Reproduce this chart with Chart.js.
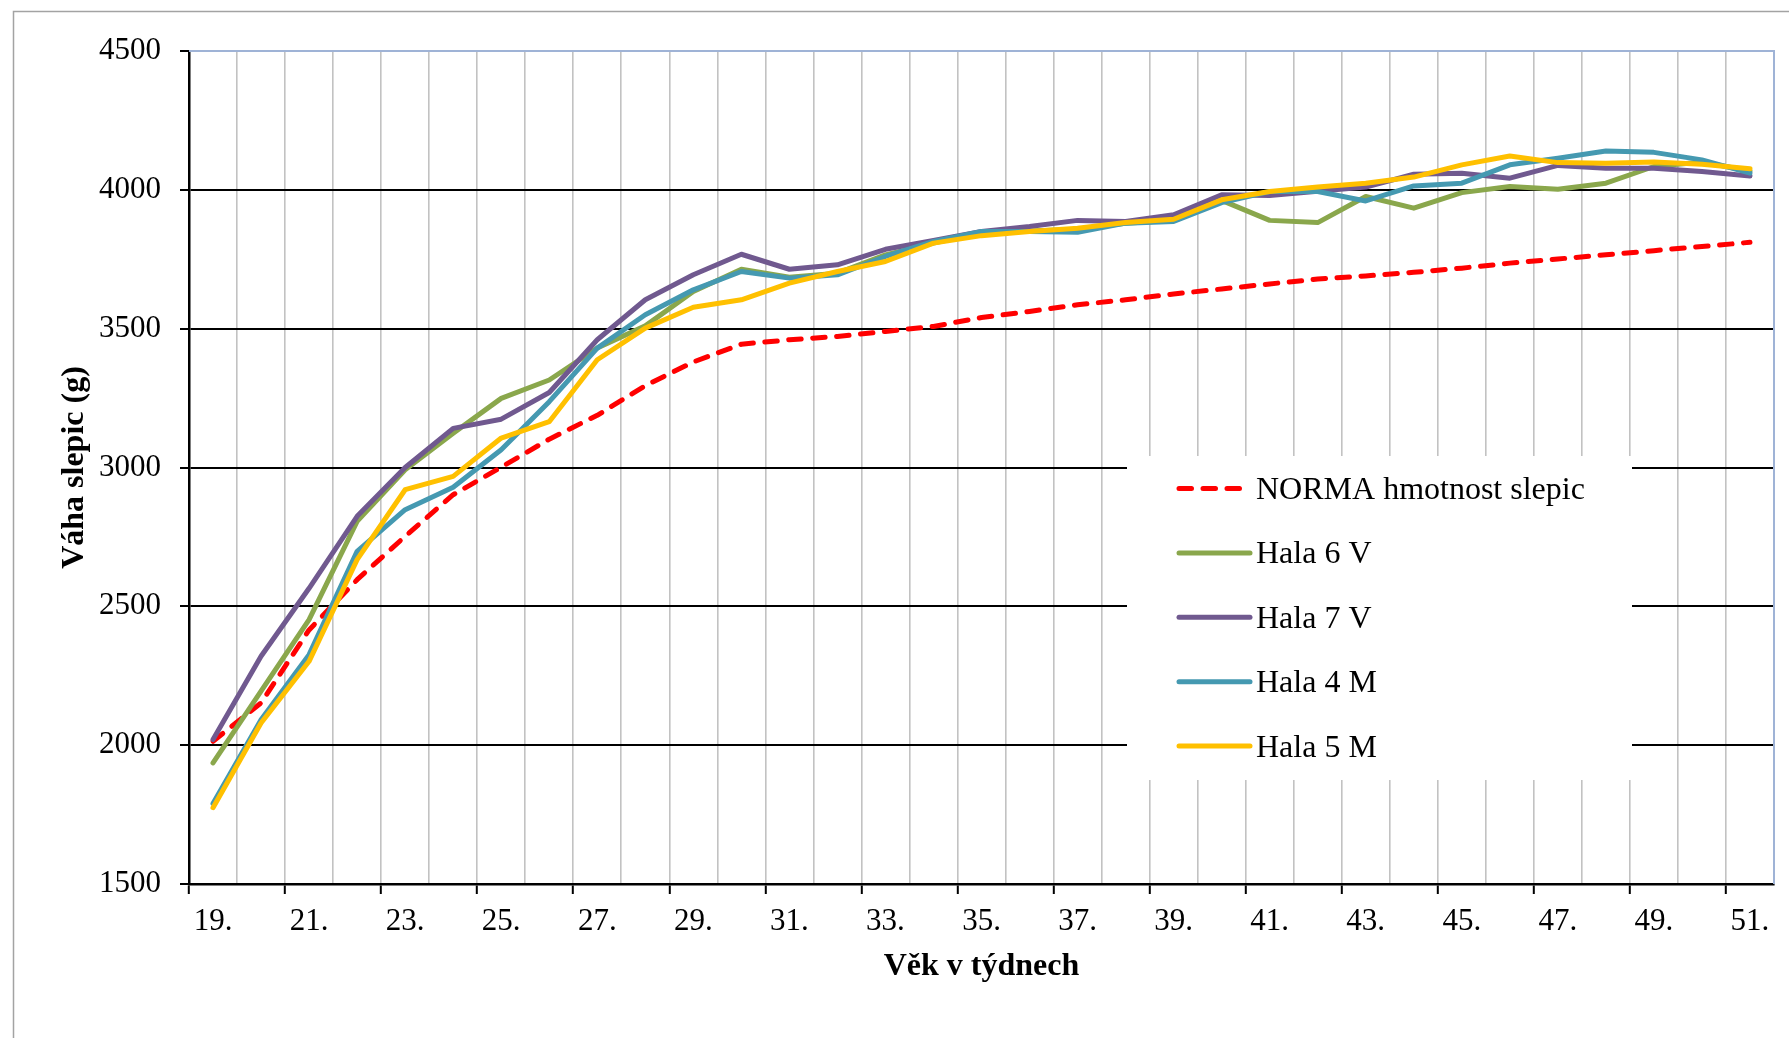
<!DOCTYPE html>
<html>
<head>
<meta charset="utf-8">
<script src="https://cdn.jsdelivr.net/npm/chart.js@4.4.1/dist/chart.umd.min.js"></script>
<style>
  html, body { margin: 0; padding: 0; background: #ffffff; }
  canvas { display: block; }
</style>
</head>
<body>
<canvas id="chart" width="1789" height="1038"></canvas>
<script>
// Week of age (x categories)
const weekLabels = ['19.','20.','21.','22.','23.','24.','25.','26.','27.','28.','29.','30.',
  '31.','32.','33.','34.','35.','36.','37.','38.','39.','40.','41.','42.','43.','44.',
  '45.','46.','47.','48.','49.','50.','51.'];

// Hen body weight in grams
const normaHmotnost = [2014, 2152, 2415, 2596, 2752, 2902, 3001, 3102, 3188, 3295, 3380, 3444,
  3460, 3472, 3490, 3508, 3540, 3562, 3586, 3604, 3625, 3643, 3661, 3679, 3690, 3703,
  3718, 3736, 3751, 3766, 3781, 3796, 3811];
const hala6V = [1936, 2195, 2452, 2806, 2992, 3123, 3249, 3315, 3430, 3510, 3634, 3714,
  3685, 3700, 3766, 3808, 3845, 3852, 3858, 3880, 3890, 3962, 3890, 3882, 3976, 3934,
  3990, 4012, 4002, 4024, 4084, 4100, 4068];
const hala7V = [2020, 2320, 2565, 2824, 3000, 3141, 3174, 3270, 3460, 3604, 3694, 3768,
  3714, 3730, 3786, 3818, 3850, 3868, 3890, 3886, 3910, 3982, 3980, 3995, 4010, 4056,
  4060, 4042, 4088, 4078, 4078, 4066, 4050];
const hala4M = [1790, 2092, 2326, 2698, 2848, 2929, 3064, 3237, 3430, 3550, 3640, 3706,
  3682, 3694, 3760, 3814, 3850, 3850, 3847, 3880, 3886, 3954, 3994, 3994, 3960, 4014,
  4024, 4090, 4114, 4140, 4135, 4108, 4060];
const hala5M = [1775, 2080, 2302, 2668, 2920, 2968, 3106, 3165, 3388, 3502, 3577, 3604,
  3664, 3706, 3742, 3808, 3835, 3850, 3862, 3882, 3894, 3964, 3994, 4010, 4024, 4046,
  4090, 4122, 4098, 4096, 4100, 4092, 4076];

// Value axis ticks
const yTicks = [1500, 2000, 2500, 3000, 3500, 4000, 4500];

const SERIF = '"Liberation Serif", "Times New Roman", serif';
const NORMA_DASH = [12.5, 11.5];

const series = [
  { label: 'NORMA hmotnost slepic', data: normaHmotnost, color: '#ff0000', dash: NORMA_DASH },
  { label: 'Hala 6 V', data: hala6V, color: '#8aa74c', dash: [] },
  { label: 'Hala 7 V', data: hala7V, color: '#70598f', dash: [] },
  { label: 'Hala 4 M', data: hala4M, color: '#4599b1', dash: [] },
  { label: 'Hala 5 M', data: hala5M, color: '#ffc000', dash: [] }
];

const datasets = series.map((s, i) => ({
  label: s.label,
  data: s.data,
  borderColor: s.color,
  backgroundColor: s.color,
  borderWidth: 5,
  borderDash: s.dash,
  borderCapStyle: 'round',
  borderJoinStyle: 'round',
  pointRadius: 0,
  pointHoverRadius: 0,
  tension: 0,
  fill: false,
  // later series are painted over earlier ones
  order: series.length - 1 - i
}));

// White page with the grey outer frame
const framePlugin = {
  id: 'frame',
  beforeDraw(chart) {
    const ctx = chart.ctx;
    ctx.save();
    ctx.fillStyle = '#ffffff';
    ctx.fillRect(0, 0, chart.width, chart.height);
    ctx.strokeStyle = '#a3a3a3';
    ctx.lineWidth = 1.5;
    ctx.strokeRect(13.5, 11.5, chart.width + 20, chart.height + 20);
    ctx.restore();
  }
};

// Light blue edge on the top and right of the plot area
const plotEdgePlugin = {
  id: 'plotEdge',
  beforeDatasetsDraw(chart) {
    const { ctx, chartArea: a } = chart;
    ctx.save();
    ctx.strokeStyle = '#9fb3d6';
    ctx.lineWidth = 2;
    ctx.beginPath();
    ctx.moveTo(a.left, a.top);
    ctx.lineTo(a.right, a.top);
    ctx.lineTo(a.right, a.bottom);
    ctx.stroke();
    ctx.restore();
  }
};

// Legend box drawn inside the plot, over the grid
const legendPlugin = {
  id: 'innerLegend',
  afterDatasetsDraw(chart) {
    const ctx = chart.ctx;
    const box = { x: 1127, y: 456, w: 505, h: 324 };
    const firstRow = 488.5, rowStep = 64.4;
    const lineX0 = 1179, lineX1 = 1250, textX = 1256;
    ctx.save();
    ctx.fillStyle = '#ffffff';
    ctx.fillRect(box.x, box.y, box.w, box.h);
    ctx.font = '32px ' + SERIF;
    ctx.textAlign = 'left';
    ctx.textBaseline = 'alphabetic';
    chart.data.datasets.forEach((ds, i) => {
      const y = firstRow + i * rowStep;
      ctx.strokeStyle = ds.borderColor;
      ctx.lineWidth = ds.borderWidth;
      ctx.lineCap = 'round';
      ctx.setLineDash(ds.borderDash || []);
      ctx.beginPath();
      ctx.moveTo(lineX0, y);
      ctx.lineTo(ds.borderDash && ds.borderDash.length ? lineX1 - 8 : lineX1, y);
      ctx.stroke();
      ctx.setLineDash([]);
      ctx.fillStyle = '#000000';
      ctx.fillText(ds.label, textX, y + 10.5);
    });
    ctx.restore();
  }
};

new Chart(document.getElementById('chart'), {
  type: 'line',
  data: { labels: weekLabels, datasets },
  plugins: [framePlugin, plotEdgePlugin, legendPlugin],
  options: {
    responsive: false,
    devicePixelRatio: 1,
    animation: false,
    layout: { padding: { left: 0, top: 51, right: 15, bottom: 0 } },
    plugins: {
      legend: { display: false },
      tooltip: { enabled: false }
    },
    scales: {
      x: {
        type: 'category',
        offset: true,
        afterFit(scale) { scale.height = 154; },
        grid: {
          offset: true,
          color: '#c2c2c2',
          lineWidth: 1.6,
          tickLength: 10,
          tickWidth: 2,
          tickColor: (c) => (c.index % 2 === 0 ? '#000000' : 'rgba(0,0,0,0)')
        },
        border: { color: '#000000', width: 2.5 },
        ticks: {
          autoSkip: false,
          maxRotation: 0,
          minRotation: 0,
          padding: 9,
          color: '#000000',
          font: { family: SERIF, size: 31 },
          callback: (v, i) => (i % 2 === 0 ? weekLabels[i] : '')
        },
        title: {
          display: true,
          text: 'Věk v týdnech',
          color: '#000000',
          font: { family: SERIF, size: 32, weight: 'bold' },
          padding: { top: 0, bottom: 52 }
        }
      },
      y: {
        min: yTicks[0],
        max: yTicks[yTicks.length - 1],
        afterFit(scale) { scale.width = 189; },
        afterBuildTicks(scale) { scale.ticks = yTicks.map(v => ({ value: v })); },
        grid: {
          color: (c) => (c.tick && c.tick.value === yTicks[yTicks.length - 1] ? 'rgba(0,0,0,0)' : '#000000'),
          lineWidth: 2,
          tickLength: 9,
          tickWidth: 2,
          tickColor: '#000000'
        },
        border: { color: '#000000', width: 2.5 },
        ticks: {
          padding: 19,
          color: '#000000',
          font: { family: SERIF, size: 31 },
          callback: (v) => String(v)
        },
        title: {
          display: true,
          text: 'Váha slepic (g)',
          color: '#000000',
          font: { family: SERIF, size: 32, weight: 'bold' },
          padding: { top: 56, bottom: 0 }
        }
      }
    }
  }
});
</script>
</body>
</html>
